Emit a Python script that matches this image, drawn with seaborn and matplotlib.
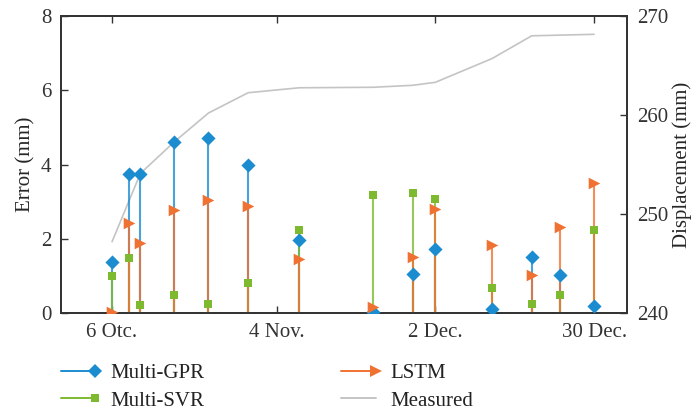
import numpy as np
import pandas as pd
import matplotlib
matplotlib.use("Agg")
import matplotlib.pyplot as plt
import seaborn as sns
from matplotlib.lines import Line2D
from matplotlib.legend_handler import HandlerLine2D

# ---------------- data ----------------
days = [0, 3, 5, 11, 17, 24, 33, 46, 53, 57, 67, 74, 79, 85]   # days after 6 Oct
gpr_err = [1.38, 3.75, 3.75, 4.60, 4.71, 4.00, 1.97, 0.04, 1.05, 1.72, 0.11, 1.50, 1.02, 0.19]
svr_err = [1.00, 1.47, 0.22, 0.48, 0.24, 0.80, 2.24, 3.19, 3.24, 3.08, 0.67, 0.24, 0.48, 2.24]
lstm_err = [0.02, 2.43, 1.89, 2.78, 3.04, 2.87, 1.45, 0.15, 1.52, 2.79, 1.82, 1.03, 2.31, 3.51]

meas_days = [0, 5, 11, 17, 24, 33, 46, 53, 57, 67, 74, 85]
measured = [247.2, 254.1, 257.3, 260.2, 262.25, 262.75, 262.8, 263.0, 263.3, 265.7, 268.0, 268.15]

xtick_pos = [0, 29, 57, 85]
xtick_labels = ["6 Otc.", "4 Nov.", "2 Dec.", "30 Dec."]
left_ticks = [0, 2, 4, 6, 8]
right_ticks = [240, 250, 260, 270]

series_names = ["Multi-GPR", "Multi-SVR", "LSTM"]
# --------------------------------------

c_gpr = "#1B8CD0"
c_svr = "#7DBA2F"
c_lstm = "#F07232"
c_meas = "#C4C4C4"
spine_c = "#333333"

sns.set_theme(style="ticks")
plt.rcParams["font.family"] = ["Liberation Serif", "DejaVu Serif"]
plt.rcParams["axes.edgecolor"] = spine_c
plt.rcParams["xtick.color"] = spine_c
plt.rcParams["ytick.color"] = spine_c
plt.rcParams["text.color"] = "#222222"

fs = 15

fig = plt.figure(figsize=(6.96, 4.13), dpi=100)
ax = fig.add_axes([61/696, 1-313/413, (627-61)/696, (313-16)/413])
ax2 = ax.twinx()

# measured displacement on right axis
dm = pd.DataFrame({"day": meas_days, "disp": measured})
sns.lineplot(data=dm, x="day", y="disp", ax=ax2, color=c_meas, lw=1.2, legend=False)

# stems + markers on left axis
df = pd.DataFrame({"day": days, "Multi-GPR": gpr_err, "Multi-SVR": svr_err, "LSTM": lstm_err})
specs = {
    "Multi-GPR": (c_gpr, "D", 52),
    "Multi-SVR": (c_svr, "s", 34),
    "LSTM": (c_lstm, ">", 70),
}
for name in series_names:
    col, mk, s = specs[name]
    ax.vlines(df["day"], 0, df[name], colors=col, lw=1.5, alpha=0.8, zorder=2)
for name in series_names:
    col, mk, s = specs[name]
    sns.scatterplot(data=df, x="day", y=name, ax=ax, color=col, marker=mk, s=s,
                    linewidth=0, zorder=3, legend=False)

ax.set_zorder(ax2.get_zorder() + 1)
ax.patch.set_visible(False)

ax.set_xlim(-9, 90.8)
ax.set_ylim(0, 8)
ax2.set_ylim(240, 270)
ax.set_xticks(xtick_pos)
ax.set_xticklabels(xtick_labels, fontsize=fs)
ax.set_yticks(left_ticks)
ax.set_yticklabels([str(t) for t in left_ticks], fontsize=fs)
ax2.set_yticks(right_ticks)
ax2.set_yticklabels([str(t) for t in right_ticks], fontsize=fs)

ax.set_xlabel("")
ax.set_ylabel("Error (mm)", fontsize=fs, labelpad=4)
ax2.set_ylabel("Displacement (mm)", fontsize=fs, labelpad=3)

ax.tick_params(axis="x", direction="in", length=5, width=1, top=True, pad=7)
ax.tick_params(axis="y", direction="in", length=5, width=1, right=False, pad=7)
ax2.tick_params(axis="y", direction="in", length=5, width=1, pad=7)
ax2.tick_params(axis="x", top=False, bottom=False)
for a in (ax, ax2):
    for sp in a.spines.values():
        sp.set_visible(True)
        sp.set_linewidth(1.3)
        sp.set_color(spine_c)


class EndMarkerHandler(HandlerLine2D):
    def create_artists(self, legend, orig_handle, xdescent, ydescent, width, height, fontsize, trans):
        arts = super().create_artists(legend, orig_handle, xdescent, ydescent, width, height, fontsize, trans)
        for a in arts:
            if isinstance(a, Line2D):
                a.set_markevery([2])
        return arts


h_gpr = Line2D([], [], color=c_gpr, lw=1.4, marker="D", markersize=7, markeredgewidth=0)
h_svr = Line2D([], [], color=c_svr, lw=1.4, marker="s", markersize=6, markeredgewidth=0)
h_lstm = Line2D([], [], color=c_lstm, lw=1.4, marker=">", markersize=8.5, markeredgewidth=0)
h_meas = Line2D([], [], color=c_meas, lw=1.4)
leg = fig.legend([h_gpr, h_svr, h_lstm, h_meas],
                 ["Multi-GPR", "Multi-SVR", "LSTM", "Measured"],
                 ncol=2, loc="center left", bbox_to_anchor=(61/696, 1-387/413),
                 frameon=False, fontsize=fs, handlelength=1.65, handletextpad=0.7,
                 columnspacing=6.6, labelspacing=0.38, borderpad=0, borderaxespad=0,
                 numpoints=1, handler_map={Line2D: EndMarkerHandler(numpoints=1)})

fig.savefig("out.png", dpi=100)
